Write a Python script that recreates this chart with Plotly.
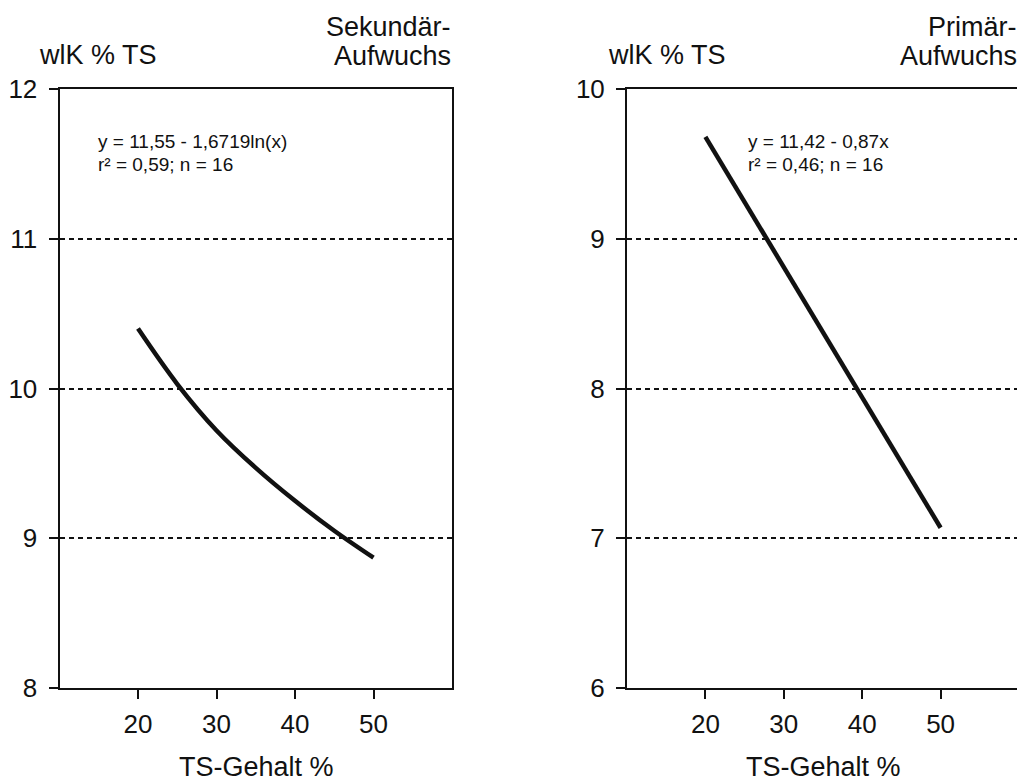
import plotly.graph_objects as go

# ---- data ----
ts_left = [20, 25, 30, 35, 40, 45, 50]
wlk_left = [10.40, 10.03, 9.72, 9.47, 9.25, 9.05, 8.87]

ts_right = [20, 50]
wlk_right = [9.68, 7.07]

x_ticks = [20, 30, 40, 50]
y_ticks_left = [8, 9, 10, 11, 12]
y_ticks_right = [6, 7, 8, 9, 10]

eq_left = ["y = 11,55 - 1,6719ln(x)", "r² = 0,59; n = 16"]
eq_right = ["y = 11,42 - 0,87x", "r² = 0,46; n = 16"]

W, H = 1025, 781
OFF = 8  # default page body margin
FONT = "Arial, Liberation Sans, sans-serif"

def px(x):
    return (x - OFF) / W

def py(y):
    return 1 - (y - OFF) / H

fig = go.Figure()
fig.add_trace(go.Scatter(x=ts_left, y=wlk_left, mode="lines", line=dict(color="#111", width=4.5, shape="spline"),
                         xaxis="x", yaxis="y", showlegend=False))
fig.add_trace(go.Scatter(x=ts_right, y=wlk_right, mode="lines", line=dict(color="#111", width=4.5),
                         xaxis="x2", yaxis="y2", showlegend=False))

axis_common = dict(showline=True, linecolor="#111", linewidth=2, mirror=True,
                   ticks="outside", ticklen=9, tickwidth=2, tickcolor="#111",
                   tickfont=dict(family=FONT, size=26, color="#111"), zeroline=False,
                   automargin=False)

x_dom_l = [px(59.5), px(452)]
x_dom_r = [px(627), px(1019)]
y_dom = [py(688), py(89)]

grid = dict(showgrid=True, gridcolor="#111", griddash="5px,4px", gridwidth=1.8, ticklabelstandoff=6)

fig.update_layout(
    template="none",
    width=W, height=H,
    margin=dict(l=0, r=0, t=0, b=0, pad=0),
    paper_bgcolor="white", plot_bgcolor="white",
    xaxis=dict(domain=x_dom_l, range=[10, 60], tickvals=x_ticks, showgrid=False, anchor="y",
               ticklabelstandoff=3, **axis_common),
    yaxis=dict(domain=y_dom, range=[8, 12], tickvals=y_ticks_left, anchor="x", **grid, **axis_common),
    xaxis2=dict(domain=x_dom_r, range=[10, 60], tickvals=x_ticks, showgrid=False, anchor="y2",
                ticklabelstandoff=3, **axis_common),
    yaxis2=dict(domain=y_dom, range=[6, 10], tickvals=y_ticks_right, anchor="x2", **grid, **axis_common),
)

def ann(text, x, y, xanchor="left", yanchor="middle", size=27):
    fig.add_annotation(text=text, x=px(x), y=py(y), xref="paper", yref="paper",
                       xanchor=xanchor, yanchor=yanchor, showarrow=False,
                       font=dict(family=FONT, size=size, color="#111"))

# y-axis titles and panel labels
ann("wlK % TS", 37, 55)
ann("Sekundär-", 453, 27, xanchor="right")
ann("Aufwuchs", 453, 56, xanchor="right")
ann("wlK % TS", 606, 55)
ann("Primär-", 1019, 27, xanchor="right")
ann("Aufwuchs", 1019, 56, xanchor="right")

# x-axis titles
ann("TS-Gehalt %", 256, 767, xanchor="center")
ann("TS-Gehalt %", 823, 767, xanchor="center")

# regression equations
ann(eq_left[0], 96, 141, size=19)
ann(eq_left[1], 96, 164, size=19)
ann(eq_right[0], 746, 141, size=19)
ann(eq_right[1], 746, 164, size=19)

fig.write_html("out.html")
